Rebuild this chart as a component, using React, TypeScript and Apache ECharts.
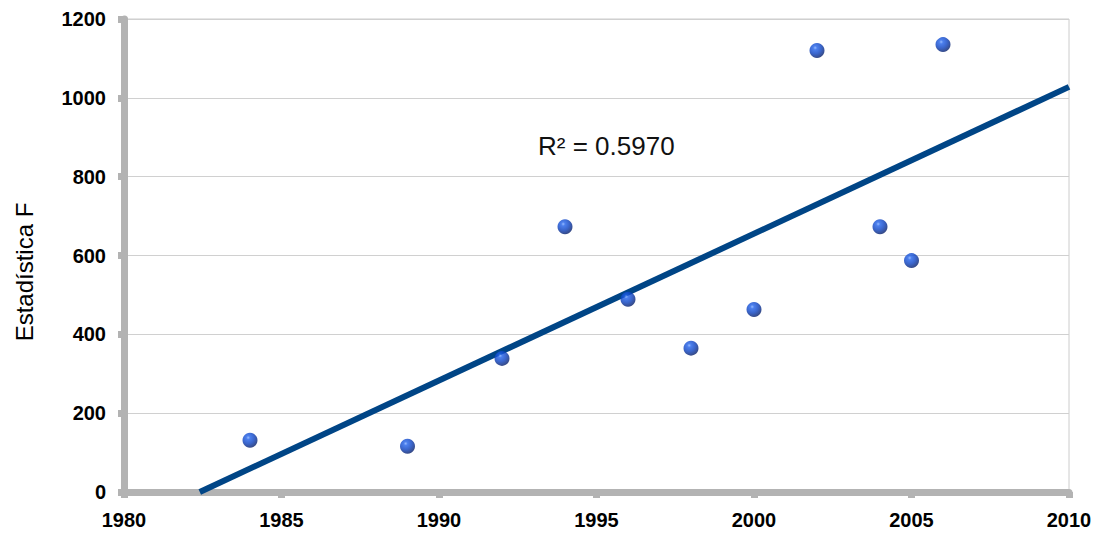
import React, { useEffect, useRef } from "react";
import * as echarts from "echarts";

const years = [1984, 1989, 1992, 1994, 1996, 1998, 2000, 2002, 2004, 2005, 2006];
const fValues = [131, 116, 339, 673, 489, 365, 463, 1120, 673, 587, 1135];
const yTicks = [0, 200, 400, 600, 800, 1000, 1200];
const xRange = [1980, 2010];
const yTitle = "Estadística F";
const r2Label = "R² = 0.5970";

function regression(xs: number[], ys: number[]) {
  const n = xs.length;
  const mx = xs.reduce((a, b) => a + b, 0) / n;
  const my = ys.reduce((a, b) => a + b, 0) / n;
  let sxy = 0, sxx = 0;
  for (let i = 0; i < n; i++) {
    sxy += (xs[i] - mx) * (ys[i] - my);
    sxx += (xs[i] - mx) * (xs[i] - mx);
  }
  const slope = sxy / sxx;
  return { slope, intercept: my - slope * mx };
}

export default function App() {
  const ref = useRef<HTMLDivElement>(null);
  useEffect(() => {
    if (!ref.current) return;
    const chart = echarts.init(ref.current, null, { renderer: "svg" });
    const { slope, intercept } = regression(years, fValues);
    const x0 = -intercept / slope;
    const trend = [
      [x0, 0],
      [xRange[1], slope * xRange[1] + intercept],
    ];
    const axisGray = "#b3b3b3";
    const labelFont = {
      color: "#000",
      fontFamily: "'Liberation Sans', Arial, sans-serif",
      fontWeight: "bold" as const,
      fontSize: 20,
      formatter: (v: number) => String(v),
    };
    chart.setOption({
      animation: false,
      backgroundColor: "#fff",
      grid: {
        left: 124,
        right: 25,
        top: 19,
        bottom: 42,
        show: true,
        borderColor: "#cccccc",
        borderWidth: 1,
        containLabel: false,
        outerBoundsMode: "none",
      },
      xAxis: {
        type: "value",
        min: xRange[0],
        max: xRange[1],
        interval: 5,
        axisLine: { show: true, onZero: false, lineStyle: { color: axisGray, width: 7 } },
        axisTick: { show: true, length: 6, lineStyle: { color: axisGray, width: 7 } },
        splitLine: { show: false },
        axisLabel: { ...labelFont, margin: 18 },
      },
      yAxis: {
        type: "value",
        min: yTicks[0],
        max: yTicks[yTicks.length - 1],
        interval: 200,
        axisLine: { show: true, lineStyle: { color: axisGray, width: 7 } },
        axisTick: { show: true, length: 6, lineStyle: { color: axisGray, width: 7 } },
        splitLine: { show: true, lineStyle: { color: "#d0d0d0", width: 1 } },
        axisLabel: { ...labelFont, margin: 18 },
      },
      series: [
        {
          type: "line",
          data: trend,
          showSymbol: false,
          symbol: "none",
          lineStyle: { color: "#004586", width: 6 },
          z: 2,
        },
        {
          type: "scatter",
          data: years.map((y, i) => [y, fValues[i]]),
          symbol: "circle",
          symbolSize: 15,
          itemStyle: {
            color: new echarts.graphic.RadialGradient(0.38, 0.32, 0.72, [
              { offset: 0, color: "#7aa8ff" },
              { offset: 0.18, color: "#1f5fe8" },
              { offset: 0.55, color: "#0a40c0" },
              { offset: 1, color: "#041a60" },
            ]),
          },
          z: 3,
        },
      ],
      graphic: [
        {
          type: "text",
          x: 24,
          y: 272,
          rotation: Math.PI / 2,
          style: {
            text: yTitle,
            fontFamily: "'Liberation Sans', Arial, sans-serif",
            fontSize: 24,
            fill: "#000",
            align: "center",
            verticalAlign: "middle",
          },
        },
        {
          type: "text",
          left: 538,
          top: 133,
          style: {
            text: r2Label,
            fontFamily: "'Liberation Sans', Arial, sans-serif",
            fontSize: 26,
            fill: "#111",
          },
        },
      ],
    });
    return () => chart.dispose();
  }, []);
  return <div ref={ref} style={{ width: 1094, height: 534, position: "absolute", left: 0, top: 0 }} />;
}
